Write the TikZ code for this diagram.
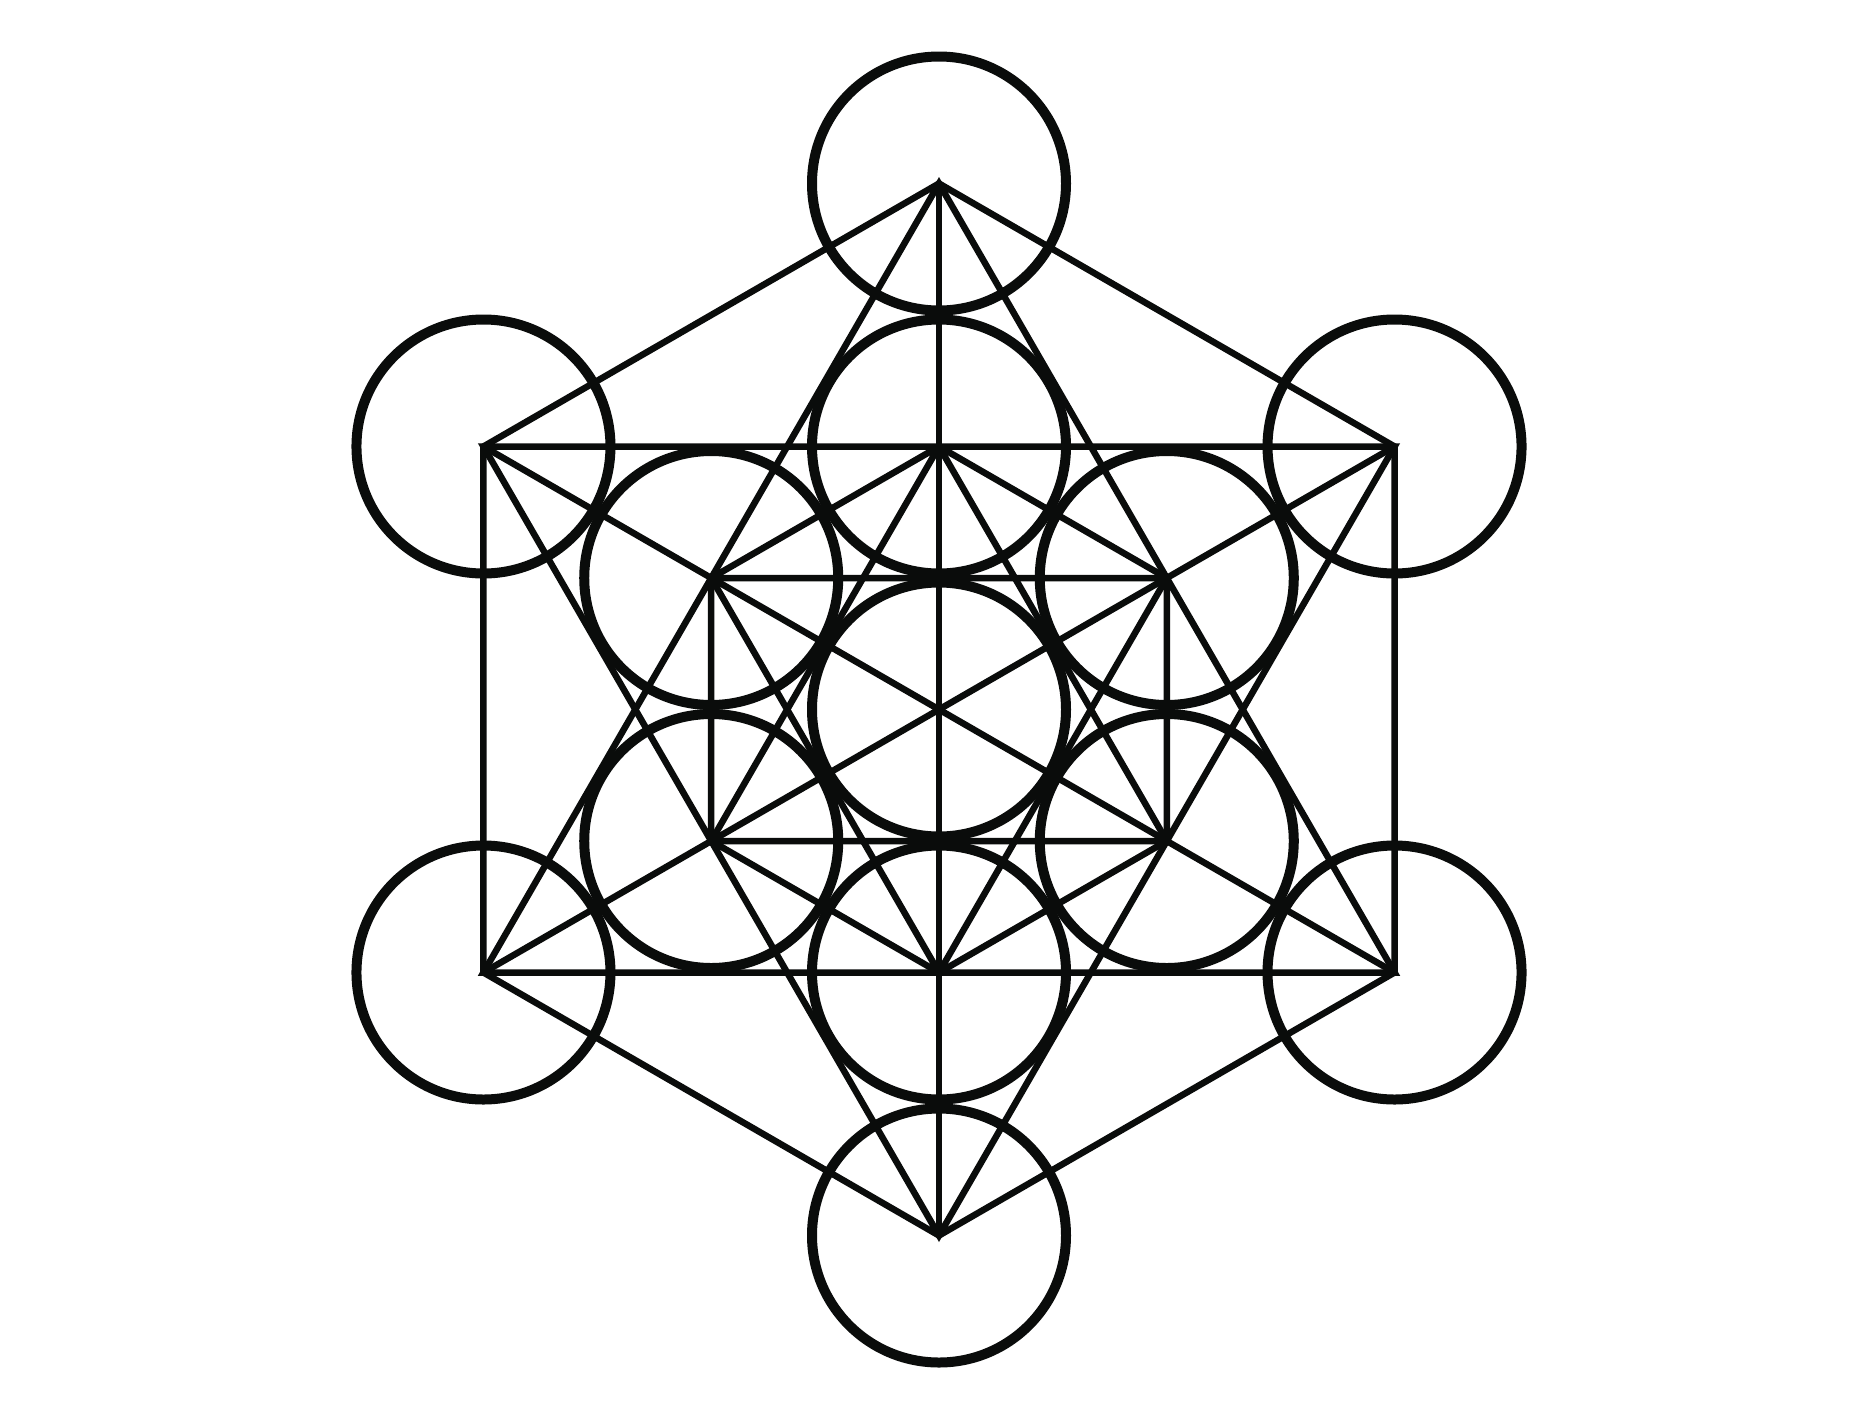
\documentclass[tikz,border=0pt]{standalone}
\definecolor{ink}{HTML}{0A0C0B}
\begin{document}
\begin{tikzpicture}[x=1pt,y=1pt,
  edge/.style={line width=6.5pt, draw=ink, line join=miter, line cap=butt},
  ring/.style={line width=10pt, draw=ink}]
\fill[white] (0,0) rectangle (1875,-1425);
\useasboundingbox (0,0) rectangle (1875,-1425);
\coordinate (C) at (939,-709.5);
\foreach \i in {0,...,5} {
  \path (C) ++({90-60*\i}:526) coordinate (O\i);
  \path (C) ++({90-60*\i}:263) coordinate (I\i);
}
% outer hexagon
\draw[edge] (O0)--(O1)--(O2)--(O3)--(O4)--(O5)--cycle;
% big hexagram
\draw[edge] (O0)--(O2)--(O4)--cycle;
\draw[edge] (O1)--(O3)--(O5)--cycle;
% long diagonals
\draw[edge] (O0)--(O3);
\draw[edge] (O1)--(O4);
\draw[edge] (O2)--(O5);
% inner hexagon
\draw[edge] (I0)--(I1)--(I2)--(I3)--(I4)--(I5)--cycle;
% inner hexagram
\draw[edge] (I0)--(I2)--(I4)--cycle;
\draw[edge] (I1)--(I3)--(I5)--cycle;
% circles
\draw[ring] (C) circle[radius=127];
\foreach \i in {0,...,5} {
  \draw[ring] (O\i) circle[radius=127];
  \draw[ring] (I\i) circle[radius=127];
}
\end{tikzpicture}
\end{document}
